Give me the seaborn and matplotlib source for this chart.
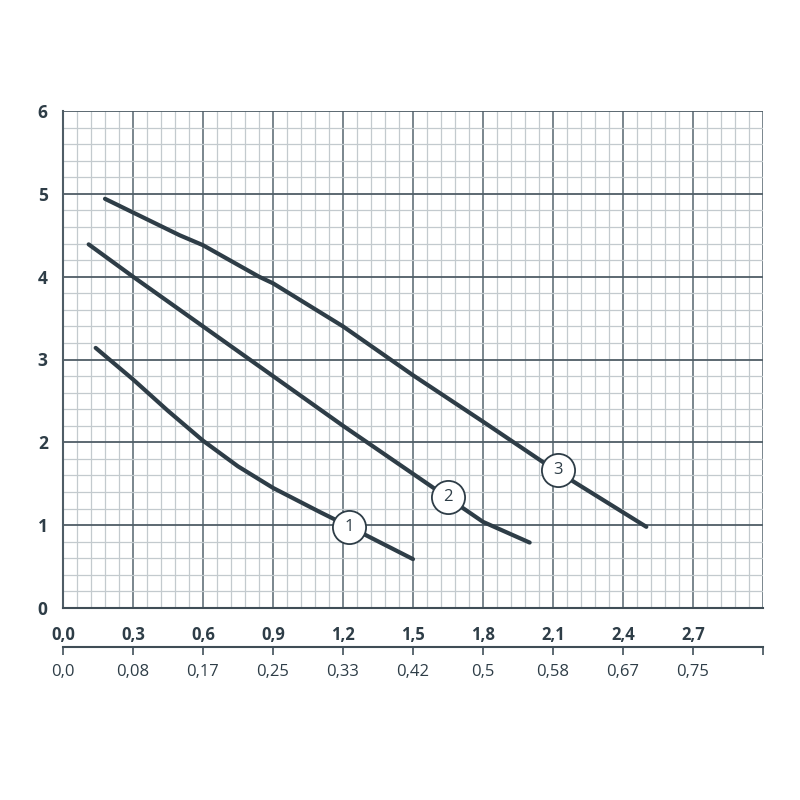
import numpy as np
import pandas as pd
import matplotlib.pyplot as plt
import seaborn as sns
from matplotlib.ticker import MultipleLocator

# pump curves (flow, head)
q1 = [0.14, 0.30, 0.45, 0.60, 0.75, 0.90, 1.10, 1.20, 1.50]
h1 = [3.14, 2.76, 2.38, 2.02, 1.71, 1.45, 1.16, 1.02, 0.59]

q2 = [0.11, 0.30, 0.60, 0.90, 1.20, 1.50, 1.80, 2.00]
h2 = [4.39, 4.00, 3.40, 2.80, 2.20, 1.62, 1.04, 0.79]

q3 = [0.18, 0.50, 0.60, 0.84, 0.90, 1.20, 1.50, 1.80, 2.10, 2.50]
h3 = [4.94, 4.50, 4.38, 4.00, 3.92, 3.40, 2.81, 2.25, 1.68, 0.98]

# curve tags
tag_names = ["1", "2", "3"]
tag_x = [1.227, 1.649, 2.123]
tag_y = [0.98, 1.34, 1.66]

xticks = [0.0, 0.3, 0.6, 0.9, 1.2, 1.5, 1.8, 2.1, 2.4, 2.7, 3.0]
xlabels = ["0,0", "0,3", "0,6", "0,9", "1,2", "1,5", "1,8", "2,1", "2,4", "2,7", ""]
x2labels = ["0,0", "0,08", "0,17", "0,25", "0,33", "0,42", "0,5", "0,58", "0,67", "0,75", ""]
yticks = [0, 1, 2, 3, 4, 5, 6]

df = pd.concat([
    pd.DataFrame({"q": q1, "h": h1, "curve": "1"}),
    pd.DataFrame({"q": q2, "h": h2, "curve": "2"}),
    pd.DataFrame({"q": q3, "h": h3, "curve": "3"}),
])

sns.set_theme(style="white")
plt.rcParams["font.family"] = ["Open Sans", "DejaVu Sans"]

dark = "#2e3d47"
fig = plt.figure(figsize=(8, 8), dpi=100)
ax = fig.add_axes([0.07875, 0.24, 0.875, 0.62125])

ax.set_xlim(0, 3.0)
ax.set_ylim(0, 6)
ax.xaxis.set_minor_locator(MultipleLocator(0.06))
ax.yaxis.set_minor_locator(MultipleLocator(0.2))
ax.grid(which="minor", color="#c3cace", linewidth=0.9)
ax.grid(which="major", axis="x", color="#6f7d85", linewidth=1.3)
ax.grid(which="major", axis="y", color="#4f5d66", linewidth=1.3)
ax.set_axisbelow(True)

sns.lineplot(data=df, x="q", y="h", units="curve", estimator=None,
             color=dark, linewidth=3.0, ax=ax, legend=False,
             solid_capstyle="round", solid_joinstyle="round")

for name, tx, ty in zip(tag_names, tag_x, tag_y):
    ax.scatter(tx, ty, s=570, facecolor="white", edgecolor=dark,
               linewidth=1.3, zorder=5)
    ax.text(tx, ty, name, ha="center", va="center", fontsize=12,
            color=dark, zorder=6)

ax.set_xticks(xticks)
ax.set_xticklabels(xlabels, fontsize=12, fontweight="bold", color=dark)
ax.set_yticks(yticks)
ax.set_yticklabels([str(v) for v in yticks], fontsize=12.5,
                   fontweight="bold", color=dark)
ax.tick_params(axis="both", which="major", length=6, width=1.3,
               color="#4f5d66", direction="out", pad=5)
ax.tick_params(axis="both", which="minor", length=0)
ax.tick_params(axis="x", which="major", pad=7)
for side in ["top", "right"]:
    ax.spines[side].set_visible(False)
ax.spines["left"].set_color("#4f5d66")
ax.spines["left"].set_linewidth(1.5)
ax.spines["bottom"].set_color("#3f4d56")
ax.spines["bottom"].set_linewidth(1.5)
ax.set_xlabel("")
ax.set_ylabel("")

# second scale below
sec = ax.secondary_xaxis(-0.0785)
sec.set_xticks(xticks)
sec.set_xticklabels(x2labels, fontsize=12, color=dark)
sec.tick_params(length=6, width=1.3, color="#4f5d66", pad=6)
sec.spines["bottom"].set_color("#3f4d56")
sec.spines["bottom"].set_linewidth(1.5)

fig.savefig("out.png", dpi=100, facecolor="white")
